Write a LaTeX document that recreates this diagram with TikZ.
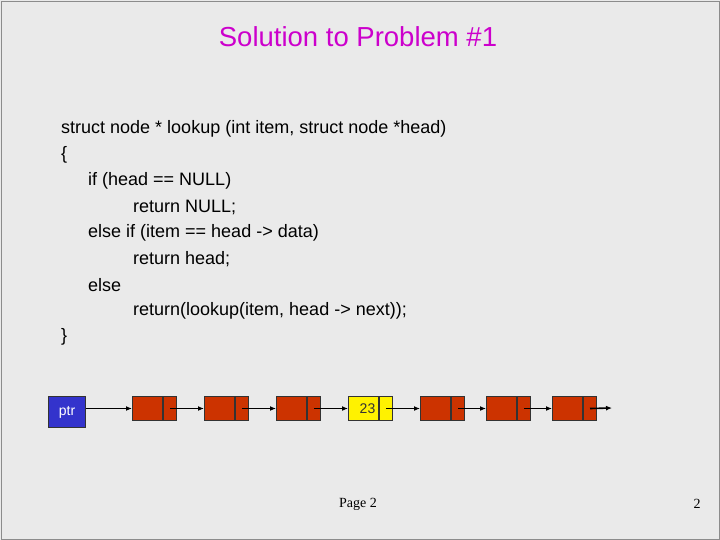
\documentclass[tikz,border=0pt]{standalone}
\usepackage{fontspec}
\setmainfont{Liberation Sans}
\newfontfamily\serifpage{Liberation Serif}
\usetikzlibrary{arrows.meta}
\definecolor{slidebg}{HTML}{EAEAEA}
\definecolor{titlemag}{HTML}{CC00CC}
\definecolor{cellred}{HTML}{CC3300}
\definecolor{ptrblue}{HTML}{3333CC}
\tikzset{
  codeline/.style={anchor=west,inner sep=0pt,font=\fontsize{18}{20}\selectfont},
  cell/.style={draw=black!80,line width=1pt,fill=cellred,minimum width=30pt,minimum height=24pt,anchor=north west,inner sep=0pt},
  tail/.style={draw=black!80,line width=1pt,fill=cellred,minimum width=13pt,minimum height=24pt,anchor=north west,inner sep=0pt},
  link/.style={line width=1.6pt,-{Latex[length=6pt,width=5pt]}}
}
\begin{document}
\begin{tikzpicture}[x=1pt,y=-1pt]
    % Slide background
    \fill[slidebg] (0,0) rectangle (720,540);
    \draw[black!45] (1,1) rectangle (719,539);
    \useasboundingbox (0,0) rectangle (720,540);
    % Title
    \node[text=titlemag,font=\fontsize{27.5}{30}\selectfont] (title) at (358,37) {Solution to Problem \#1};
    % Code
    \node[codeline] (c1) at (61,129) {struct node * lookup (int item, struct node *head)};
    \node[codeline] (c2) at (61,155) {\{};
    \node[codeline] (c3) at (88,181) {if (head == NULL)};
    \node[codeline] (c4) at (133,207) {return NULL;};
    \node[codeline] (c5) at (88,233) {else if (item == head -> data)};
    \node[codeline] (c6) at (133,259) {return head;};
    \node[codeline] (c7) at (88,285) {else};
    \node[codeline] (c8) at (133,311) {return(lookup(item, head -> next));};
    \node[codeline] (c9) at (61,337) {\}};
    % Pointer box
    \node[draw=black!80,line width=1pt,fill=ptrblue,text=white,minimum width=37pt,minimum height=31pt,anchor=north west,inner sep=0pt,font=\fontsize{14}{15}\selectfont] (ptr) at (48,396) {ptr};
    % List cells
    \foreach \i/\x in {1/132,2/204,3/276,5/420,6/486,7/552}{
        \node[cell] (d\i) at (\x,396) {};
        \node[tail] (n\i) at (d\i.north east) {};
    }
    \node[cell,fill=yellow,font=\fontsize{14}{15}\selectfont,text=black!80] (d4) at (348,396) {\hspace{8pt}23};
    \node[tail,fill=yellow] (n4) at (d4.north east) {};
    \coordinate (end) at (612,408);
    % Links
    \draw[link] (ptr.east |- d1.west) -- (d1.west);
    \foreach \i/\j in {1/2,2/3,3/4,4/5,5/6,6/7}{
        \draw[link] (n\i.center) -- (d\j.west);
    }
    \draw[link] (n7.center) -- (end);
    % Footer
    \node[font=\serifpage\fontsize{14}{16}\selectfont] (page) at (358,504) {Page 2};
    \node[font=\serifpage\fontsize{14}{16}\selectfont] (num) at (697,504) {2};
\end{tikzpicture}
\end{document}
